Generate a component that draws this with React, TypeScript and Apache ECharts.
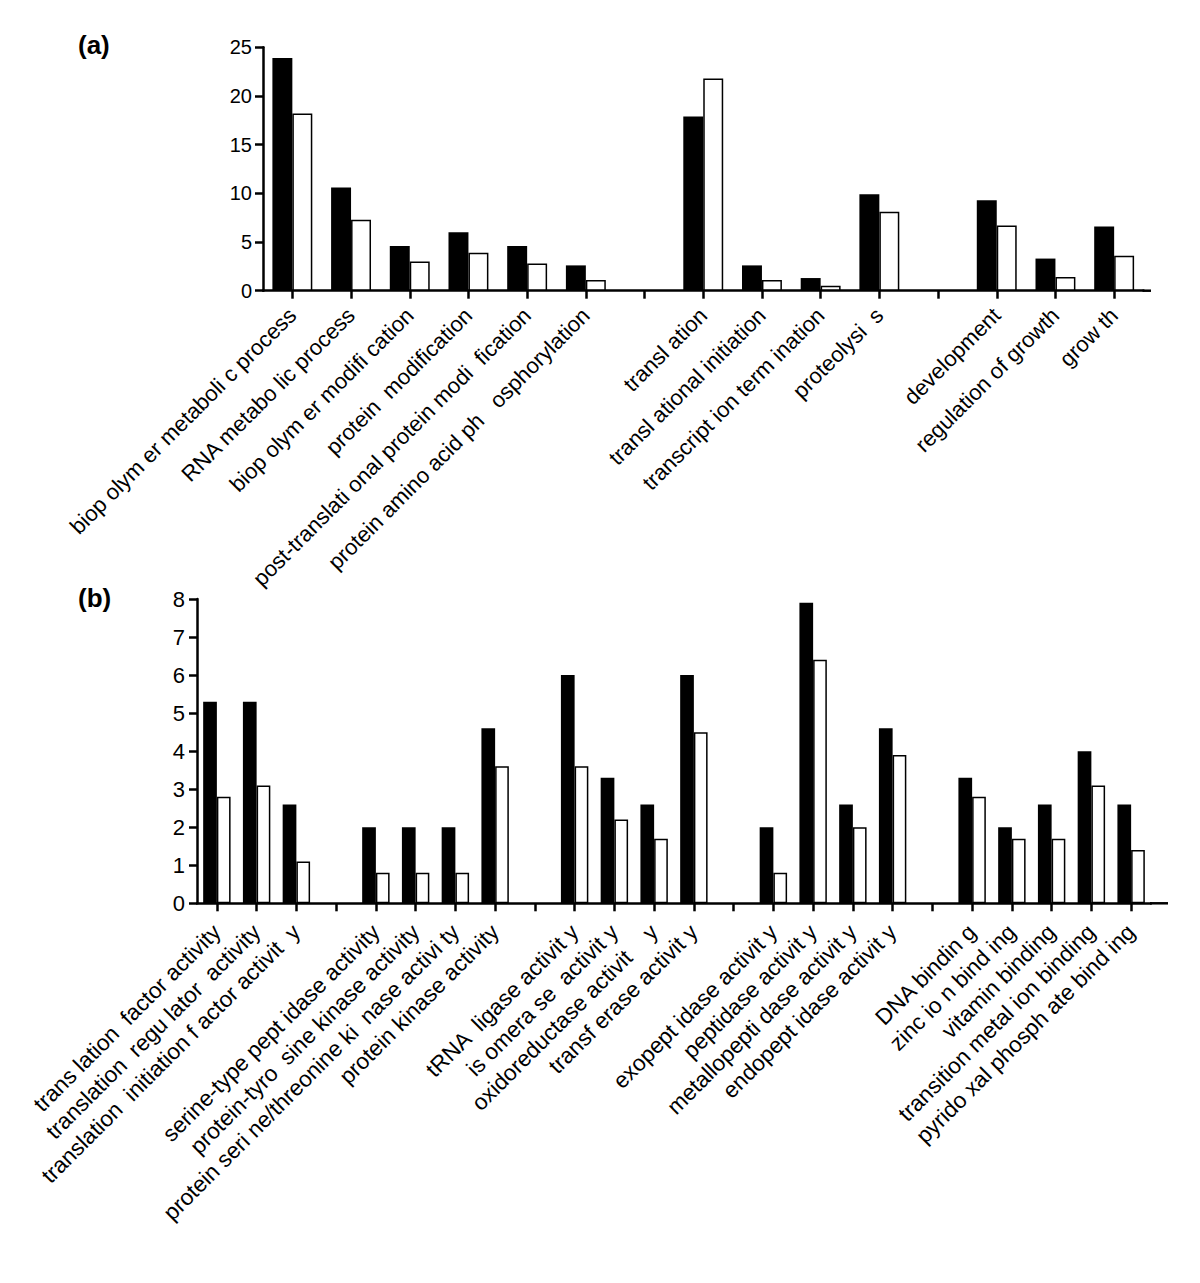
import React, { useEffect, useRef } from "react";
import * as echarts from "echarts";

const catsA = [
  "biop olym er metaboli c process",
  "RNA metabo lic process",
  "biop olym er modifi cation",
  "protein  modification",
  "post-translati onal protein modi  fication",
  "protein amino acid ph   osphorylation",
  "",
  "transl ation",
  "transl ational initiation",
  "transcript ion term ination",
  "proteolysi  s",
  "",
  "development",
  "regulation of growth",
  "grow th",
];
const blackA = [23.9, 10.6, 4.6, 6.0, 4.6, 2.6, null, 17.9, 2.6, 1.3, 9.9, null, 9.3, 3.3, 6.6];
const whiteA = [18.2, 7.3, 3.0, 3.9, 2.8, 1.1, null, 21.8, 1.1, 0.5, 8.1, null, 6.7, 1.4, 3.6];
const ticksA = { min: 0, max: 25, interval: 5 };

const catsB = [
  "trans lation  factor activity",
  "translation  regu lator  activity",
  "translation  initiation f actor activit  y",
  "",
  "serine-type pept idase activity",
  "protein-tyro  sine kinase activity",
  "protein seri ne/threonine ki  nase activi ty",
  "protein kinase activity",
  "",
  "tRNA  ligase activit y",
  "is omera se  activit y",
  "oxidoreductase activit    y",
  "transf erase activit y",
  "",
  "exopept idase activit y",
  "peptidase activit y",
  "metallopepti dase activit y",
  "endopept idase activit y",
  "",
  "DNA bindin g",
  "zinc io n bind ing",
  "vitamin binding",
  "transition metal ion binding",
  "pyrido xal phosph ate bind ing",
];
const blackB = [5.3, 5.3, 2.6, null, 2.0, 2.0, 2.0, 4.6, null, 6.0, 3.3, 2.6, 6.0, null, 2.0, 7.9, 2.6, 4.6, null, 3.3, 2.0, 2.6, 4.0, 2.6];
const whiteB = [2.8, 3.1, 1.1, null, 0.8, 0.8, 0.8, 3.6, null, 3.6, 2.2, 1.7, 4.5, null, 0.8, 6.4, 2.0, 3.9, null, 2.8, 1.7, 1.7, 3.1, 1.4];
const ticksB = { min: 0, max: 8, interval: 1 };

const FONT = "'Liberation Sans', Arial, Helvetica, sans-serif";

export default function App() {
  const ref = useRef<HTMLDivElement>(null);
  useEffect(() => {
    document.body.style.margin = "0";
    const chart = echarts.init(ref.current!, null, { renderer: "svg" });
    const axisLine = { show: true, lineStyle: { color: "#000", width: 2.5 } };
    const axisTick = { show: true, length: 8, lineStyle: { color: "#000", width: 2.5 } };
    const xAxis = (gridIndex: number, data: string[], fs: number, margin: number) => ({
      type: "category",
      gridIndex,
      data,
      axisLine,
      axisTick: { ...axisTick, alignWithLabel: true, interval: 0 },
      axisLabel: {
        interval: 0,
        rotate: 45,
        margin,
        fontSize: fs,
        color: "#000",
        fontFamily: FONT,
      },
      splitLine: { show: false },
    });
    const yAxis = (gridIndex: number, t: any, fs: number, margin: number) => ({
      type: "value",
      gridIndex,
      min: t.min,
      max: t.max,
      interval: t.interval,
      axisLine,
      axisTick,
      axisLabel: { margin, fontSize: fs, color: "#000", fontFamily: FONT },
      splitLine: { show: false },
    });
    const blackStyle = { color: "#000" };
    const whiteStyle = { color: "#fff", borderColor: "#000", borderWidth: 1.5 };
    const gA = { left: 263, right: 56.5, top: 47.3, height: 243.4 };
    const gB = { left: 197, right: 49, top: 599, height: 304.3 };
    chart.setOption({
      animation: false,
      backgroundColor: "#fff",
      grid: [gA, gB],
      xAxis: [xAxis(0, catsA, 22, 21), xAxis(1, catsB, 22.5, 25)],
      yAxis: [yAxis(0, ticksA, 20, 11), yAxis(1, ticksB, 22, 12)],
      series: [
        { type: "bar", xAxisIndex: 0, yAxisIndex: 0, data: blackA, itemStyle: blackStyle, barGap: "0%", barCategoryGap: "32%" },
        { type: "bar", xAxisIndex: 0, yAxisIndex: 0, data: whiteA, itemStyle: whiteStyle, barGap: "0%", barCategoryGap: "32%" },
        { type: "bar", xAxisIndex: 1, yAxisIndex: 1, data: blackB, itemStyle: blackStyle, barGap: "0%", barCategoryGap: "31%" },
        { type: "bar", xAxisIndex: 1, yAxisIndex: 1, data: whiteB, itemStyle: whiteStyle, barGap: "0%", barCategoryGap: "31%" },
      ],
      graphic: [
        { type: "text", left: 78, top: 32, style: { text: "(a)", font: `bold 26px ${FONT}`, fill: "#000" } },
        { type: "text", left: 78, top: 585, style: { text: "(b)", font: `bold 26px ${FONT}`, fill: "#000" } },
        {
          type: "line",
          shape: { x1: 1200 - gA.right - 1, y1: gA.top + gA.height, x2: 1151, y2: gA.top + gA.height },
          style: { stroke: "#000", lineWidth: 2.5 },
        },
        {
          type: "line",
          shape: { x1: 1200 - gB.right - 1, y1: gB.top + gB.height, x2: 1168, y2: gB.top + gB.height },
          style: { stroke: "#000", lineWidth: 2.5 },
        },
      ],
    });
    return () => chart.dispose();
  }, []);
  return <div ref={ref} style={{ width: 1200, height: 1283 }} />;
}
